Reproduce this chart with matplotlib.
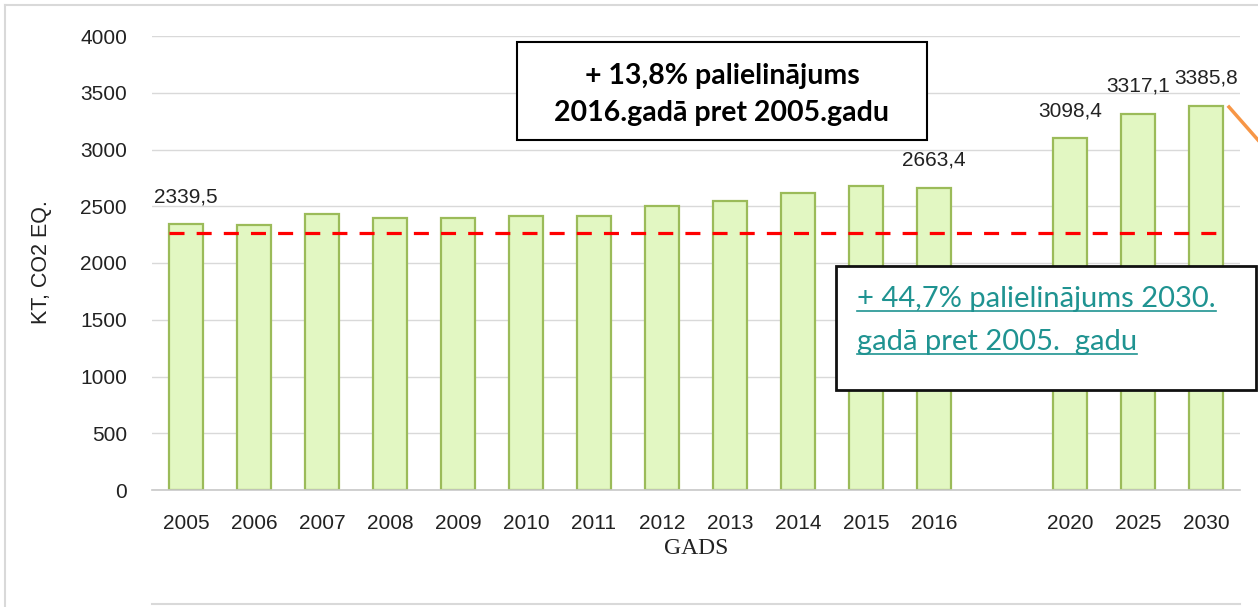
import matplotlib
matplotlib.use("Agg")
import matplotlib.pyplot as plt
import numpy as np
from matplotlib.patches import Rectangle
from matplotlib.lines import Line2D

# data
categories = ['2005', '2006', '2007', '2008', '2009', '2010', '2011', '2012',
              '2013', '2014', '2015', '2016', '', '2020', '2025', '2030']
values = [2339.5, 2335, 2430, 2395, 2395, 2410, 2410, 2505,
          2545, 2620, 2680, 2663.4, np.nan, 3098.4, 3317.1, 3385.8]
labelled = ['2005', '2016', '2020', '2025', '2030']
ref_level = 2265

box1_lines = ['+ 13,8% palielinājums', '2016.gadā pret 2005.gadu']
box2_lines = ['+ 44,7% palielinājums 2030.', 'gadā pret 2005.  gadu']

W, H = 1258, 607
fig = plt.figure(figsize=(W / 100, H / 100), dpi=100)
fig.patch.set_facecolor('white')


def fx(px):
    return px / W


def fy(py):
    return 1 - py / H


ax = fig.add_axes([fx(152), fy(490), fx(1240) - fx(152), fy(36) - fy(490)])

x = np.arange(len(categories))
vals = np.array(values, dtype=float)
mask = ~np.isnan(vals)
ax.bar(x[mask], vals[mask], width=0.5, color='#e2f7c2', edgecolor='#9bbb59',
       linewidth=1.6, zorder=2)

for xi, cat, v in zip(x, categories, vals):
    if cat in labelled:
        ax.annotate(f'{v:.1f}'.replace('.', ','), (xi, v), xytext=(0, 20),
                    textcoords='offset points', ha='center', va='center',
                    fontsize=15, color='#222222', family='Liberation Sans')

ax.plot([x[0] - 0.25, x[-1] + 0.25], [ref_level, ref_level], color='#ff0000',
        lw=2.3, linestyle=(0, (4.7, 3.8)), zorder=3)

ax.set_xlim(-0.5, len(categories) - 0.5)
ax.set_ylim(0, 4000)
ax.set_yticks(np.arange(0, 4001, 500))
ax.set_xticks(x)
ax.set_xticklabels(categories)
ax.grid(axis='y', color='#d9d9d9', lw=1, zorder=0)
ax.set_axisbelow(True)
for s in ['top', 'right', 'left']:
    ax.spines[s].set_visible(False)
ax.spines['bottom'].set_color('#c8c8c8')
ax.spines['bottom'].set_linewidth(1.2)
ax.tick_params(length=0, labelsize=15, colors='#222222')
ax.tick_params(axis='x', pad=17)
ax.tick_params(axis='y', pad=18)
for lab in ax.get_xticklabels() + ax.get_yticklabels():
    lab.set_family('Liberation Sans')

ax.set_xlabel('GADS', fontsize=17, family='Liberation Serif', color='#222222',
              labelpad=4)
fig.text(fx(42), fy(262), 'KT, CO2 EQ.', rotation=90, ha='center', va='center',
         fontsize=15.5, family='Liberation Sans', color='#222222')

# outer frame pieces
fig.add_artist(Line2D([fx(5), fx(5)], [fy(5), fy(607)], color='#d9d9d9', lw=1.5))
fig.add_artist(Line2D([fx(5), fx(1258)], [fy(5), fy(5)], color='#d9d9d9', lw=1.5))
fig.add_artist(Line2D([fx(152), fx(1240)], [fy(604), fy(604)], color='#d9d9d9', lw=1.5))

# orange connector
fig.add_artist(Line2D([fx(1229), fx(1258)], [fy(107), fy(140)], color='#f79646', lw=2.5))

# box 1
fig.add_artist(Rectangle((fx(517), fy(140)), fx(927) - fx(517), fy(42) - fy(140),
                         transform=fig.transFigure, facecolor='white',
                         edgecolor='black', lw=1.5, zorder=5))
for i, line in enumerate(box1_lines):
    fig.text(fx(722), fy(76 + i * 37), line, ha='center', va='center',
             fontsize=20.5, fontweight='bold', family='Lato', color='black', zorder=6)

# box 2
fig.add_artist(Rectangle((fx(836), fy(390)), fx(1256) - fx(836), fy(266) - fy(390),
                         transform=fig.transFigure, facecolor='white',
                         edgecolor='#111111', lw=2, zorder=5))
teal = '#1f9391'
texts2 = []
for i, line in enumerate(box2_lines):
    t = fig.text(fx(857), fy(299 + i * 43), line, ha='left', va='center',
                 fontsize=21, family='Lato', color=teal, zorder=6)
    texts2.append(t)

fig.canvas.draw()
r = fig.canvas.get_renderer()
for t in texts2:
    bb = t.get_window_extent(renderer=r)
    yy = (bb.y0 + 1) / H
    fig.add_artist(Line2D([bb.x0 / W, bb.x1 / W], [yy, yy], color=teal, lw=1.2, zorder=6))

fig.savefig('out.png', dpi=100)
